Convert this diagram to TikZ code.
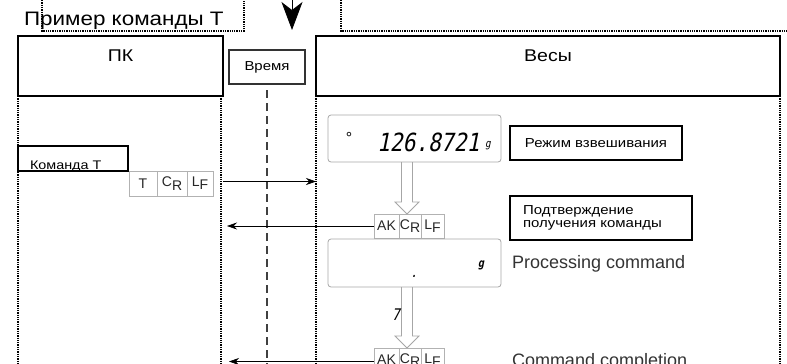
\documentclass[tikz,border=0pt]{standalone}
\usepackage{fontspec}
\setmainfont{Liberation Sans}
\newfontfamily\widefont[FakeStretch=1.15]{Liberation Sans}
\newfontfamily\segfont[FakeSlant=0.2,FakeStretch=0.85]{DejaVu Sans Mono}
\usetikzlibrary{arrows.meta,calc,positioning}
\newcommand{\crsub}{C\raisebox{-0.45ex}{R}}
\newcommand{\lfsub}{L\raisebox{-0.45ex}{F}}

\begin{document}
\begin{tikzpicture}[
  x=1pt, y=-1pt,
  every node/.style={inner sep=0pt, outer sep=0pt},
  head/.style={draw, line width=1.3pt, minimum height=60pt, text depth=20pt, font=\widefont\fontsize{17}{19}\selectfont},
  tag/.style={draw, line width=1.2pt, font=\widefont\fontsize{13}{13.5}\selectfont},
  disp/.style={draw=gray!70, line width=0.8pt, rounded corners=3pt, minimum width=173pt},
  pkt/.style={draw=gray!60, line width=0.8pt, minimum height=24pt, font=\fontsize{14}{14}\selectfont, text=black!85},
  life/.style={densely dotted, line width=1.3pt},
  tline/.style={dash pattern=on 8pt off 5pt, line width=1.6pt, black!75},
  msg/.style={-{Stealth[length=10pt,width=7pt]}, line width=0.6pt},
  hollow/.style={draw=gray!70, line width=0.8pt, line join=miter},
  note/.style={font=\fontsize{18}{20}\selectfont, text=black!80}
]
\useasboundingbox (0,0) rectangle (787,364);
\clip (0,0) rectangle (787,364);

% frames cut at the top
\draw[life] (42,0) -- (42,31) -- (244,31) -- (244,0);
\draw[life] (341,0) -- (341,31) -- (787,31);
\node[font=\widefont\fontsize{19.5}{21}\selectfont, anchor=base west] (title) at (24,25) {Пример команды T};
\coordinate (in0) at (292,-2);
\coordinate (in1) at (292,30);
\draw[-{Stealth[length=28pt,width=21pt,inset=8pt]}, line width=0.8pt] (in0) -- (in1);

% heads and lifelines
\node[head, minimum width=205pt] (pc) at (120.5,66) {ПК};
\node[head, minimum width=464pt] (scale) at (548,66) {Весы};
\node[tag, draw=black!80, minimum width=76pt, minimum height=34pt] (time) at (267,67) {Время};
\coordinate (bot) at (0,372);
\draw[life] (pc.south west) -- (pc.south west |- bot);
\draw[life] ([xshift=-2pt]pc.south east) -- ([xshift=-2pt]pc.south east |- bot);
\draw[life] (scale.south west) -- (scale.south west |- bot);
\draw[life] (scale.south east) -- (scale.south east |- bot);
\draw[tline] ([yshift=-6pt]time.south) -- (time.south |- bot);

% command T
\node[draw, line width=1.2pt, minimum width=110pt, minimum height=25pt] (cmdbox) at (73,158.5) {};
\node[font=\widefont\fontsize{12.5}{14}\selectfont, anchor=base west] (cmdtxt) at (30,169) {Команда T};
\node[pkt, minimum width=28pt, minimum height=25pt] (t0) at (143,183.5) {T};
\node[pkt, minimum width=30pt, minimum height=25pt, right=0pt of t0] (cr0) {\crsub};
\node[pkt, minimum width=26pt, minimum height=25pt, right=0pt of cr0] (lf0) {\lfsub};
\draw[msg] ($(pc.south east |- lf0)+(0,-2)$) -- ($(scale.south west |- lf0)+(0,-2)$);

% weighing display
\node[disp, minimum height=47pt] (disp1) at (414.5,138.5) {};
\node[font=\fontsize{16}{16}\selectfont, anchor=base] (deg) at (349,143) {°};
\node[font=\segfont\fontsize{25}{25}\selectfont, anchor=base west] (wt) at (377,151) {126.8721};
\node[font=\segfont\fontsize{11}{11}\selectfont, anchor=base] (unit1) at (488,147) {g};
\node[tag, minimum width=172pt, minimum height=34pt] (mode) at (596,143) {Режим взвешивания};

% acknowledge
\node[pkt, minimum width=25pt] (ak1) at (386.5,226) {AK};
\node[pkt, minimum width=22pt, right=0pt of ak1] (cr1) {\crsub};
\node[pkt, minimum width=23pt, right=0pt of cr1] (lf1) {\lfsub};
\coordinate (tip1) at ($(cr1.north)+(-3,0)$);
\draw[hollow] ($(disp1.south -| tip1)+(-5.5,0)$) -- ($(tip1)+(-5.5,-12)$) -- ($(tip1)+(-12,-12)$)
  -- (tip1) -- ($(tip1)+(12,-12)$) -- ($(tip1)+(5.5,-12)$) -- ($(disp1.south -| tip1)+(5.5,0)$);
\draw[msg] (ak1.west) -- ($(pc.south east |- ak1)+(4,0)$);
\node[tag, minimum width=182pt, minimum height=44pt, align=left, text width=156pt] (ack) at (601,218)
  {Подтверждение\\получения команды};

% processing
\node[disp, minimum height=48pt] (disp2) at (414.5,263) {};
\node[font=\segfont\fontsize{14}{14}\selectfont, anchor=base] (dot2) at (414,277) {.};
\node[font=\segfont\bfseries\fontsize{12}{12}\selectfont, anchor=base] (unit2) at (481,267) {g};
\node[note, anchor=base west] (proc) at (512,268) {Processing command};

% completion
\node[pkt, minimum width=25pt] (ak2) at (386.5,360) {AK};
\node[pkt, minimum width=22pt, right=0pt of ak2] (cr2) {\crsub};
\node[pkt, minimum width=23pt, right=0pt of cr2] (lf2) {\lfsub};
\coordinate (tip2) at ($(cr2.north)+(-3,0)$);
\draw[hollow] ($(disp2.south -| tip2)+(-5.5,0)$) -- ($(tip2)+(-5.5,-12)$) -- ($(tip2)+(-12,-12)$)
  -- (tip2) -- ($(tip2)+(12,-12)$) -- ($(tip2)+(5.5,-12)$) -- ($(disp2.south -| tip2)+(5.5,0)$);
\node[font=\segfont\fontsize{16}{16}\selectfont, anchor=base] (seven) at (396,320) {7};
\draw[msg] ($(ak2.west)+(0,1.5)$) -- ($(pc.south east |- ak2)+(6,1.5)$);
\node[note, anchor=base west] (done) at (512,366) {Command completion};
\end{tikzpicture}
\end{document}
